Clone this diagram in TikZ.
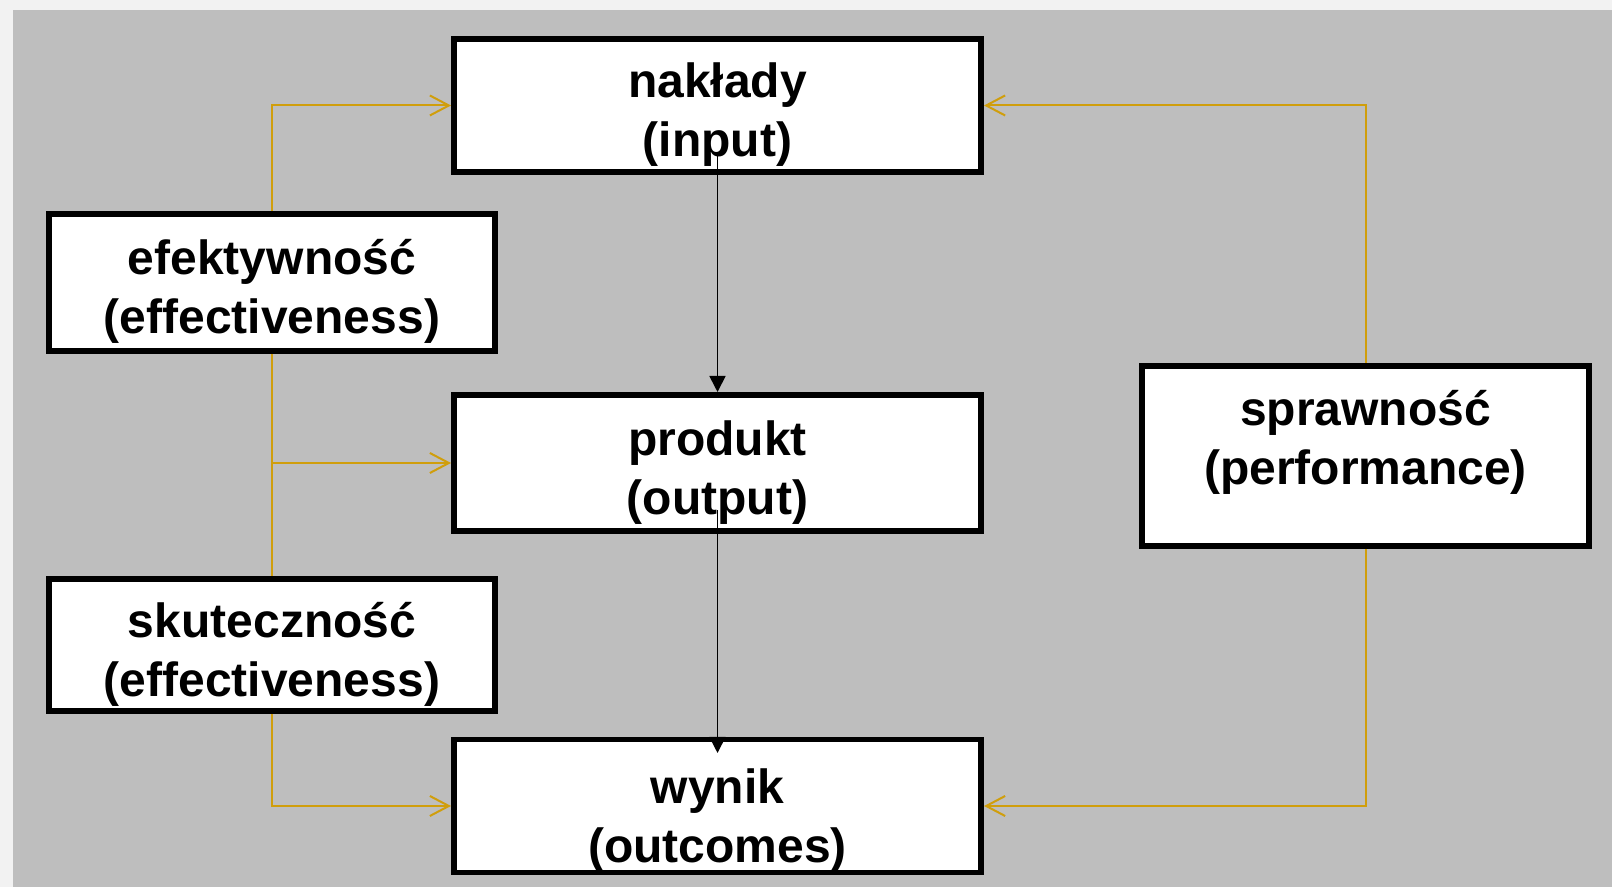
\documentclass[tikz,border=0pt]{standalone}
\usepackage{fontspec}
\setmainfont{Liberation Sans}
\usepackage{tikz}
\usetikzlibrary{arrows.meta}
\definecolor{panelgray}{RGB}{190,190,190}
\definecolor{margingray}{RGB}{242,242,242}
\definecolor{linkyellow}{RGB}{208,158,12}

\begin{document}
\begin{tikzpicture}[scale=1.0]
        \tikzstyle{stage} = [rectangle, draw, line width=1.7pt, fill=white, inner sep=0pt, align=center,
                             font=\fontsize{13.66}{16.8}\selectfont\bfseries, text height=1.13cm, text depth=0.1cm]
        \tikzstyle{link} = [linkyellow, line width=0.57pt, -{Straight Barb[length=1.9mm,width=2mm]}]
        \tikzstyle{flow} = [black, line width=0.5pt, -{Triangle[length=1.6mm,width=1.6mm]}]
        \useasboundingbox (0,0) rectangle (16.12,8.87);
        \fill[margingray] (0,0) rectangle (16.12,8.87);
        \fill[panelgray] (0.13,0) rectangle (16.12,8.77);
        \node[stage, minimum width=5.27cm, minimum height=1.33cm] (input) at (7.175, 7.815) {nakłady\\(input)};
        \node[stage, minimum width=5.27cm, minimum height=1.36cm] (output) at (7.175, 4.24) {produkt\\(output)};
        \node[stage, minimum width=5.27cm, minimum height=1.30cm, text height=1.23cm] (outcome) at (7.175, 0.81) {wynik\\(outcomes)};
        \node[stage, minimum width=4.46cm, minimum height=1.37cm] (efekt) at (2.72, 6.045) {efektywność\\(effectiveness)};
        \node[stage, minimum width=4.46cm, minimum height=1.32cm] (skut) at (2.72, 2.42) {skuteczność\\(effectiveness)};
        \node[stage, minimum width=4.47cm, minimum height=1.80cm, text height=0.67cm] (spraw) at (13.655, 4.31) {sprawność\\(performance)};
        \coordinate (inputfoot) at (7.175, 7.34);
        \coordinate (outputfoot) at (7.175, 3.77);
        \coordinate (outcomein) at (7.175, 1.34);
        \coordinate (branch) at (2.72, 4.24);
        \draw[link] (efekt.north) |- (input.west);
        \draw[link] (spraw.north) |- (input.east);
        \draw[link] (spraw.south) |- (outcome.east);
        \draw[link] (skut.south) |- (outcome.west);
        \draw[linkyellow, line width=0.57pt] (efekt.south) -- (skut.north);
        \draw[link] (branch) -- (output.west);
        \draw[flow] (inputfoot) -- (output.north);
        \draw[flow] (outputfoot) -- (outcomein);
    \end{tikzpicture}
\end{document}
